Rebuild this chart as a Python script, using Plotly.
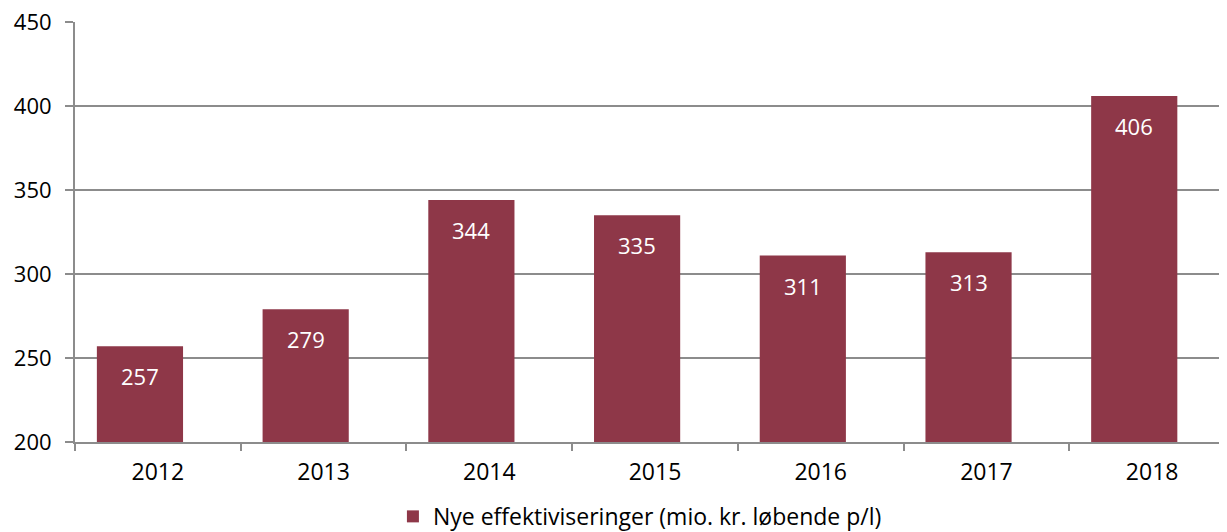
import plotly.graph_objects as go

years = ["2012", "2013", "2014", "2015", "2016", "2017", "2018"]
values = [257, 279, 344, 335, 311, 313, 406]
series_name = "Nye effektiviseringer (mio. kr. løbende p/l)"
y_ticks = [200, 250, 300, 350, 400, 450]

bar_color = "#8E3748"
grid_color = "#8C8C8C"
font_family = "Open Sans"

fig = go.Figure()
fig.add_trace(go.Bar(
    x=years, y=values, name=series_name,
    marker=dict(color=bar_color, line=dict(width=0)),
    width=0.52, offset=-0.368,
    showlegend=True,
))

for i, v in enumerate(values):
    fig.add_annotation(
        x=i - 0.108, y=v, xref="x", yref="y", text=str(v), showarrow=False,
        yshift=-30, yanchor="middle",
        font=dict(family=font_family, size=22, color="white"),
    )

fig.update_layout(
    width=1227, height=548,
    margin=dict(l=67, r=0, t=14, b=114),
    plot_bgcolor="white", paper_bgcolor="white",
    font=dict(family=font_family, size=22, color="black"),
    legend=dict(orientation="h", x=0.487, xanchor="center", y=-0.126, yanchor="top",
                font=dict(size=23), itemwidth=30),
    xaxis=dict(
        type="category", range=[-0.5, 6.5], automargin=False,
        showline=True, linecolor=grid_color, linewidth=2,
        ticks="outside", tickson="boundaries", ticklen=7, tickcolor=grid_color, tickwidth=2,
        showgrid=False, tickfont=dict(size=23), ticklabelstandoff=8,
    ),
    yaxis=dict(
        range=[200, 450], tickvals=y_ticks, automargin=False,
        showline=True, linecolor=grid_color, linewidth=2,
        showgrid=True, gridcolor=grid_color, gridwidth=2,
        ticks="outside", ticklen=8, tickcolor=grid_color, tickwidth=2,
        ticklabelstandoff=9, ticklabeloverflow="allow",
        zeroline=False, tickfont=dict(size=22),
    ),
)

fig.write_html("out.html")
